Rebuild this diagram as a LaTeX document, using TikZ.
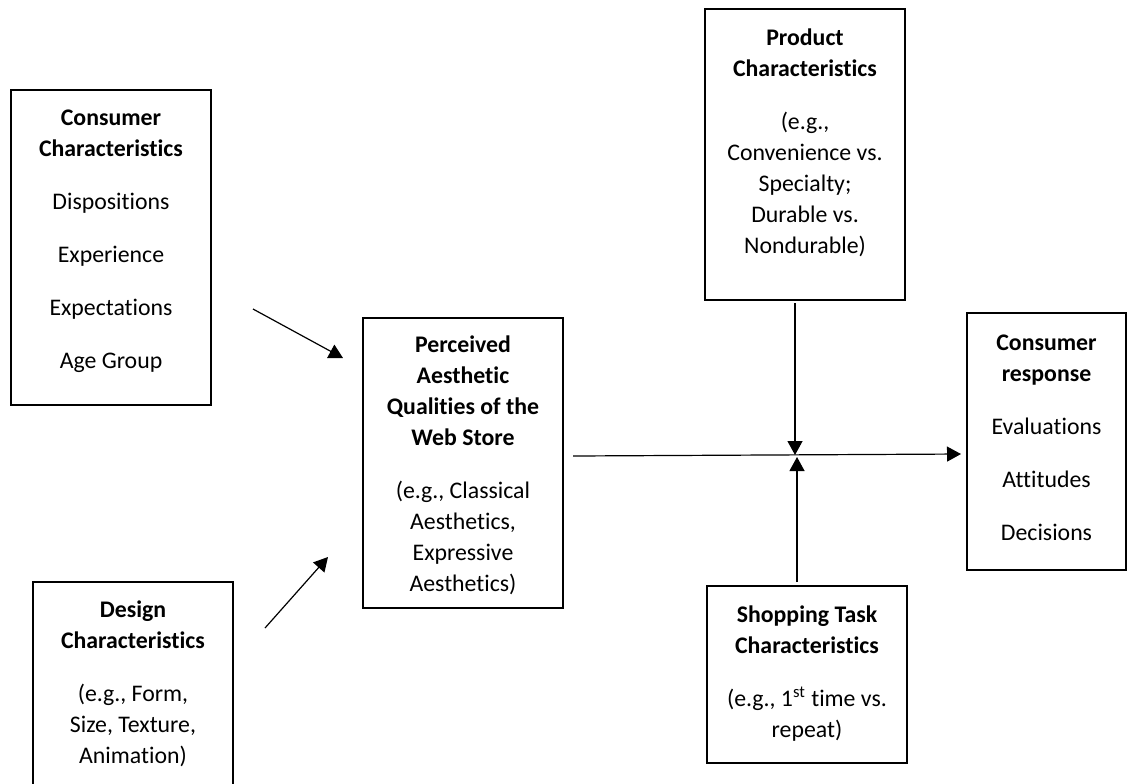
\documentclass[tikz,border=0pt]{standalone}
\usepackage{fontspec}
\setmainfont[Ligatures={NoCommon}]{Carlito}
\usetikzlibrary{arrows.meta}
\begin{document}
\begin{tikzpicture}[x=0.5pt,y=-0.5pt,
  box/.style={draw,line width=0.6pt,inner sep=0pt,minimum width=100pt},
  txt/.style={anchor=north,inner sep=0pt,align=center,font=\fontsize{11.9pt}{15.5pt}\selectfont},
  conn/.style={line width=0.6pt,-{Triangle[length=7pt,width=7.5pt]}}]
\useasboundingbox (0,0) rectangle (1127,783);
\clip (0,0) rectangle (1127,783);
% boxes
\node[box,minimum height=157.5pt] (cc) at (111,247.5) {};
\node[box,minimum height=110pt] (dc) at (133,692) {};
\node[box,minimum height=145pt] (pa) at (463,463) {};
\node[box,minimum height=145.5pt] (pc) at (805,154.5) {};
\node[box,minimum height=88.5pt] (st) at (807,674.5) {};
\node[box,minimum width=79.5pt,minimum height=128.5pt] (cr) at (1046.5,441.5) {};
% texts
\node[txt] (cct) at ([yshift=-7pt]cc.north) {\strut\textbf{Consumer}\\\textbf{Characteristics}\\[11pt]Dispositions\\[11pt]Experience\\[11pt]Expectations\\[11pt]Age Group};
\node[txt] (dct) at ([yshift=-7pt]dc.north) {\strut\textbf{Design}\\\textbf{Characteristics}\\[11pt](e.g., Form,\\Size, Texture,\\Animation)};
\node[txt] (pat) at ([yshift=-6.5pt]pa.north) {\strut\textbf{Perceived}\\\textbf{Aesthetic}\\\textbf{Qualities of the}\\\textbf{Web Store}\\[11pt](e.g., Classical\\Aesthetics,\\Expressive\\Aesthetics)};
\node[txt] (pct) at ([yshift=-7.5pt]pc.north) {\strut\textbf{Product}\\\textbf{Characteristics}\\[11pt](e.g.,\\Convenience vs.\\Specialty;\\Durable vs.\\Nondurable)};
\node[txt] (stt) at ([yshift=-7.5pt]st.north) {\strut\textbf{Shopping Task}\\\textbf{Characteristics}\\[11pt](e.g., 1\textsuperscript{st} time vs.\\repeat)};
\node[txt] (crt) at ([yshift=-8pt]cr.north) {\strut\textbf{Consumer}\\\textbf{response}\\[11pt]Evaluations\\[11pt]Attitudes\\[11pt]Decisions};
% connector end points
\coordinate (a1s) at (253,309);
\coordinate (a1e) at (343,358);
\coordinate (a2s) at (265,628);
\coordinate (a2e) at (328,557);
\coordinate (hs) at (573,456);
\coordinate (he) at (961,454);
\coordinate (vds) at (795,303);
\coordinate (vde) at (795,455);
\coordinate (vus) at (797,582);
\coordinate (vue) at (797,457);
\draw[conn] (a1s) -- (a1e);
\draw[conn] (a2s) -- (a2e);
\draw[conn] (hs) -- (he);
\draw[conn] (vds) -- (vde);
\draw[conn] (vus) -- (vue);
\end{tikzpicture}
\end{document}
